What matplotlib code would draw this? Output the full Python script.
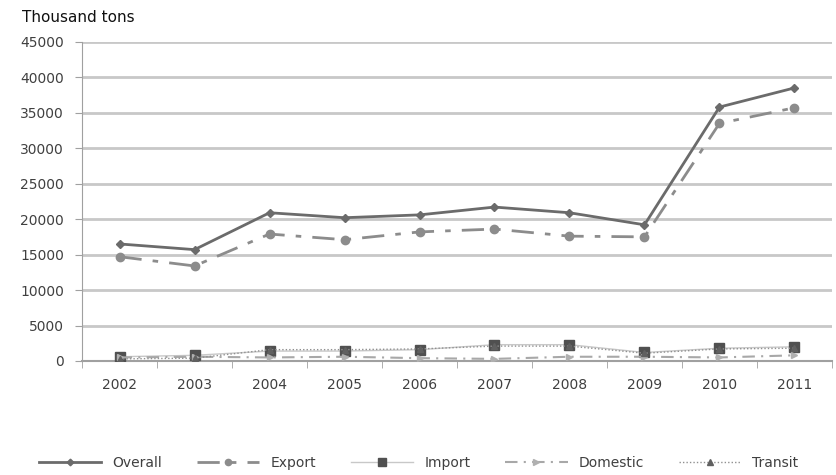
import matplotlib.pyplot as plt
import numpy as np

years = ['2002', '2003', '2004', '2005', '2006', '2007', '2008', '2009', '2010', '2011']

overall = [16500, 15700, 20900, 20200, 20600, 21700, 20900, 19200, 35800, 38500]
export = [14700, 13400, 17900, 17100, 18200, 18600, 17600, 17500, 33500, 35700]
imports = [600, 800, 1400, 1400, 1600, 2300, 2300, 1200, 1800, 2000]
domestic = [500, 600, 500, 600, 400, 300, 600, 600, 500, 800]
transit = [300, 400, 1600, 1600, 1700, 2100, 2100, 1100, 1700, 1800]

fig = plt.figure(figsize=(8.37, 4.75), dpi=100)
ax = fig.add_axes([0.098, 0.240, 0.896, 0.672])

x = np.arange(len(years))

ax.plot(x, overall, color='#6b6b6b', lw=2, marker='D', ms=4.5, label='Overall', zorder=5)
ax.plot(x, export, color='#8c8c8c', lw=2, ls=(0, (8, 4, 2, 4)), marker='o', ms=6,
        label='Export', zorder=4)
ax.plot(x, imports, color='#c8c8c8', lw=1, marker='s', ms=7, mfc='#505050', mec='#505050',
        label='Import', zorder=3)
ax.plot(x, domestic, color='#a8a8a8', lw=1.5, ls=(0, (6, 3, 1, 3)), marker='>', ms=5,
        mfc='#b0b0b0', mec='#b0b0b0', label='Domestic', zorder=3)
ax.plot(x, transit, color='#909090', lw=1, ls=(0, (1, 1.5)), marker='^', ms=5,
        mfc='#606060', mec='#606060', label='Transit', zorder=3)

ax.set_xlim(-0.5, len(years) - 0.5)
ax.set_ylim(0, 45000)
ax.set_yticks(np.arange(0, 45001, 5000))
ax.set_xticks(x)
ax.set_xticklabels(years)
ax.tick_params(axis='x', length=0, pad=12, labelsize=10, labelcolor='#404040')
ax.tick_params(axis='y', length=5, color='#a0a0a0', pad=8, labelsize=10, labelcolor='#404040')
# category boundary ticks along the x axis
ax.set_xticks(np.arange(-0.5, len(years)), minor=True)
ax.tick_params(axis='x', which='minor', length=5, color='#a0a0a0')

ax.grid(axis='y', color='#c8c8c8', lw=2)
ax.set_axisbelow(True)
for side in ['top', 'right']:
    ax.spines[side].set_visible(False)
ax.spines['left'].set_color('#a0a0a0')
ax.spines['bottom'].set_color('#a0a0a0')
ax.spines['bottom'].set_linewidth(1.5)

fig.text(0.026, 0.963, 'Thousand tons', fontsize=11, va='center', ha='left', color='#111111')

fig.legend(loc='center', bbox_to_anchor=(0.5, 0.025), ncol=5, frameon=False,
           fontsize=10, labelcolor='#404040', handlelength=4.5, columnspacing=2.5,
           handletextpad=0.8, markerscale=0.75)

fig.savefig('out.png', dpi=100)
